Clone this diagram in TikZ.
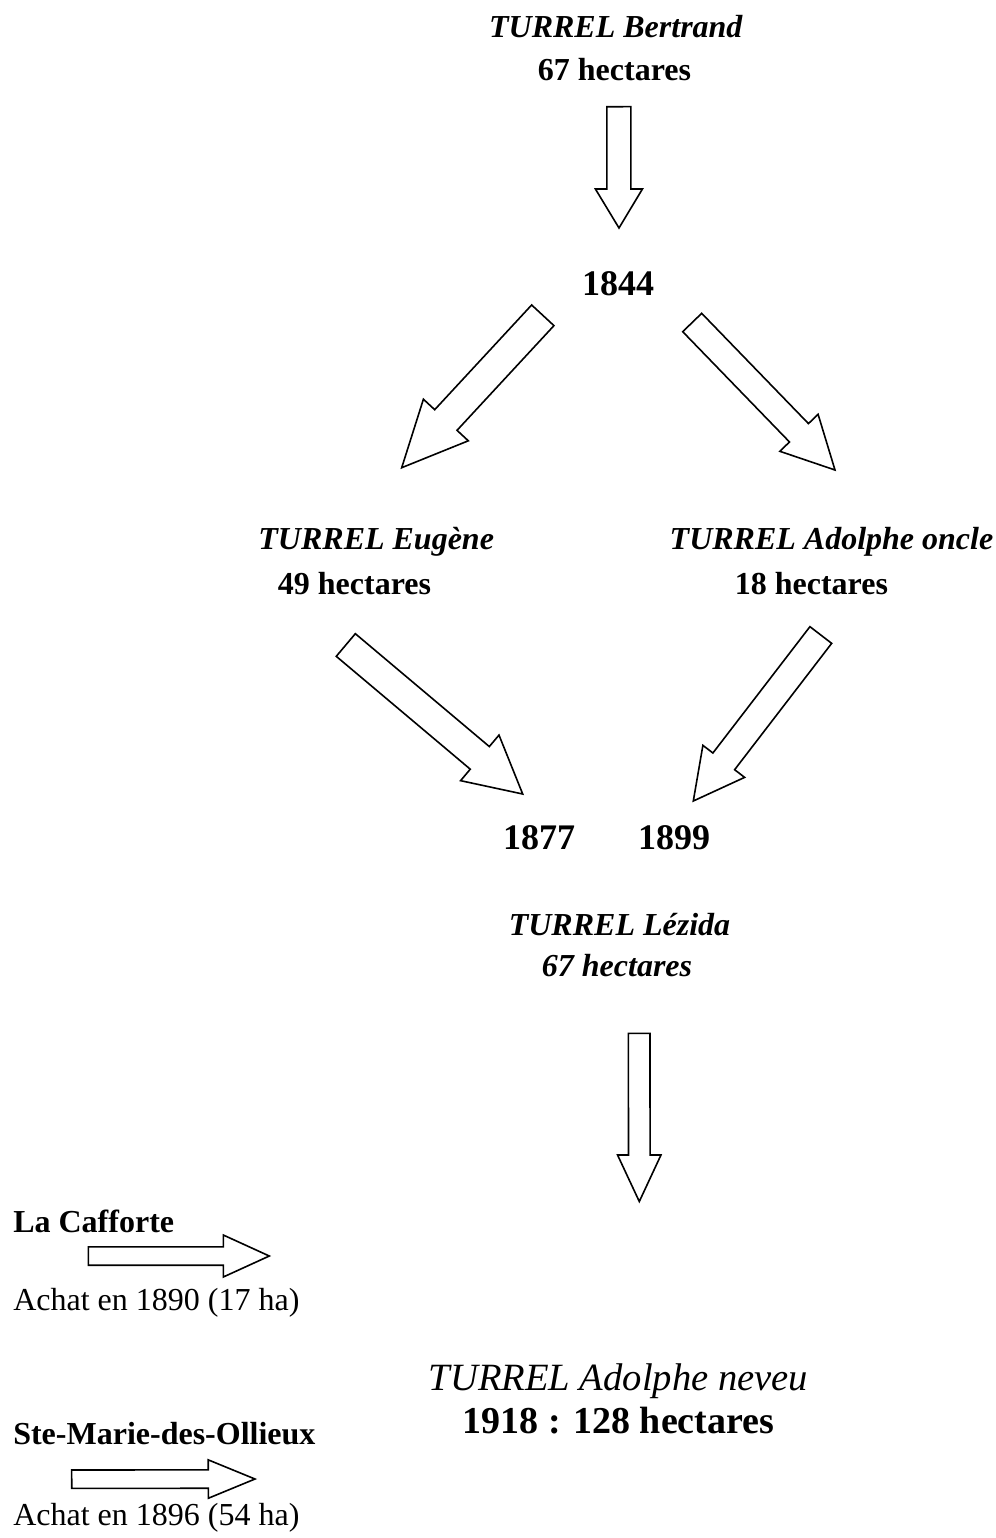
\documentclass[tikz,border=0pt]{standalone}
\usepackage{fontspec}
\setmainfont{Liberation Serif}
\usetikzlibrary{calc}
\tikzset{
  blockarrow/.style={draw=black, line width=0.8pt, fill=white, line join=miter},
  lbl/.style={inner sep=0pt, outer sep=0pt, anchor=base, font=\fontsize{16}{19}\selectfont},
  lblw/.style={lbl, anchor=base west},
  yearlbl/.style={lbl, font=\fontsize{18}{21}\selectfont\bfseries},
  biglbl/.style={lbl, font=\fontsize{19}{23}\selectfont}
}
% tail, tip, half shaft, half head, head length (pt)
\newcommand{\blockarrowdraw}[5]{%
  \coordinate (hb) at ($(#2)!#5!(#1)$);
  \draw[blockarrow]
    ($(#1)!#3!90:(#2)$) -- ($(hb)!#3!90:(#2)$) -- ($(hb)!#4!90:(#2)$) --
    (#2) -- ($(hb)!#4!-90:(#2)$) -- ($(hb)!#3!-90:(#2)$) --
    ($(#1)!#3!-90:(#2)$) -- cycle;
}
\begin{document}
\begin{tikzpicture}[x=0.5pt,y=-0.5pt]
\useasboundingbox (0,0) rectangle (996,1538);

% texts
\node[lbl, font=\fontsize{16}{19}\selectfont\bfseries\itshape] (bertrand) at (615.8,37) {TURREL Bertrand};
\node[lbl, font=\fontsize{16}{19}\selectfont\bfseries] (ha67) at (614.5,80) {67 hectares};
\node[yearlbl] (y1844) at (618,295) {1844};
\node[lbl, font=\fontsize{16}{19}\selectfont\bfseries\itshape] (eugene) at (376.2,549) {TURREL Eugène};
\node[lbl, font=\fontsize{16}{19}\selectfont\bfseries] (ha49) at (354.5,594) {49 hectares};
\node[lbl, font=\fontsize{16}{19}\selectfont\bfseries\itshape] (oncle) at (831.5,549) {TURREL Adolphe oncle};
\node[lbl, font=\fontsize{16}{19}\selectfont\bfseries] (ha18) at (811.4,594) {18 hectares};
\node[yearlbl] (y1877) at (539,849.3) {1877};
\node[yearlbl] (y1899) at (674,849.3) {1899};
\node[lbl, font=\fontsize{16}{19}\selectfont\bfseries\itshape] (lezida) at (619.5,935) {TURREL Lézida};
\node[lbl, font=\fontsize{16}{19}\selectfont\bfseries\itshape] (ha67b) at (617,976.7) {67 hectares};
\node[lblw, font=\fontsize{16}{19}\selectfont\bfseries] (cafforte) at (13.3,1232) {La Cafforte};
\node[lblw] (achat1890) at (13.3,1310) {Achat en 1890 (17 ha)};
\node[biglbl, font=\fontsize{19.3}{23}\selectfont\itshape] (neveu) at (618.5,1390) {TURREL Adolphe neveu};
\node[biglbl, font=\fontsize{19}{23}\selectfont\bfseries] (total) at (618.5,1433) {1918 : 128 hectares};
\node[lblw, font=\fontsize{16}{19}\selectfont\bfseries] (stemarie) at (13.3,1444) {Ste-Marie-des-Ollieux};
\node[lblw] (achat1896) at (13.3,1525) {Achat en 1896 (54 ha)};

% arrow end points
\coordinate (a1t) at (618.8,106.7); \coordinate (a1h) at (619,228);
\coordinate (a2t) at (542.8,315.3); \coordinate (a2h) at (401.7,467.7);
\coordinate (a3t) at (692.2,322.5); \coordinate (a3h) at (835,470);
\coordinate (a4t) at (345.8,645);   \coordinate (a4h) at (522.7,794);
\coordinate (a5t) at (820.8,635);   \coordinate (a5h) at (693.3,801);
\coordinate (a6t) at (639.2,1033.3);\coordinate (a6h) at (639.3,1201.5);
\coordinate (a7t) at (88.3,1256);   \coordinate (a7h) at (269.3,1256);
\coordinate (a8t) at (71.7,1479.2); \coordinate (a8h) at (255,1479);

\blockarrowdraw{a1t}{a1h}{6pt}{11.75pt}{19.5pt}
\blockarrowdraw{a2t}{a2h}{7.6pt}{15.3pt}{32.5pt}
\blockarrowdraw{a3t}{a3h}{6.6pt}{13.3pt}{25.9pt}
\blockarrowdraw{a4t}{a4h}{7.4pt}{14.9pt}{28.05pt}
\blockarrowdraw{a5t}{a5h}{6.85pt}{13.15pt}{25pt}
\blockarrowdraw{a6t}{a6h}{5.4pt}{10.85pt}{23.25pt}
\blockarrowdraw{a7t}{a7h}{4.6pt}{10.5pt}{23pt}
\blockarrowdraw{a8t}{a8h}{4.6pt}{9.6pt}{23.35pt}
\end{tikzpicture}
\end{document}
